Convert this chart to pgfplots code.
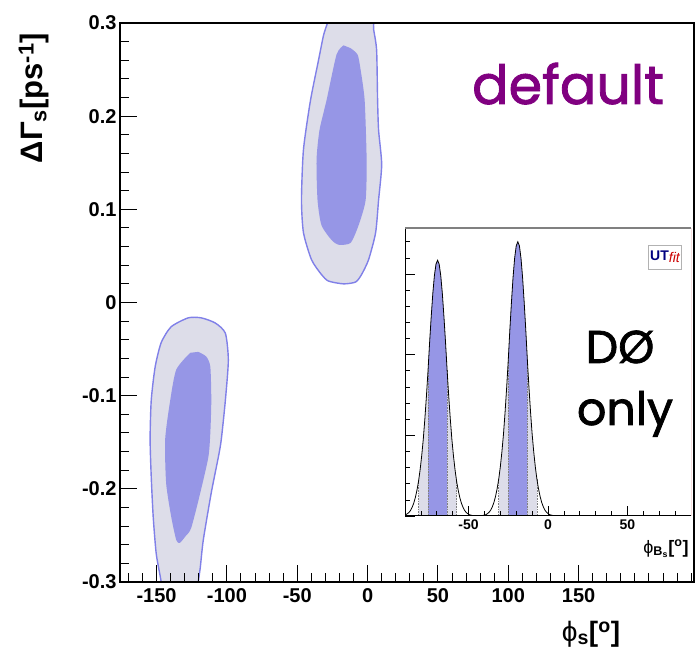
\documentclass[border=0pt]{standalone}
\usepackage{pgfplots}
\pgfplotsset{compat=1.18}
\usepackage{fontspec}
\setmainfont{Liberation Sans}
\newfontfamily\comic[FakeBold=1.6]{Poppins}
\definecolor{outerfill}{RGB}{221,221,233}
\definecolor{outline}{RGB}{128,128,232}
\definecolor{innerfill}{RGB}{150,150,230}
\definecolor{purp}{RGB}{128,0,128}
\definecolor{frame}{RGB}{128,128,128}
\definecolor{redline}{RGB}{190,0,0}
\begin{document}
\begin{tikzpicture}[x=1pt,y=1pt]
\useasboundingbox (0,0) rectangle (699,660);
% ---------------- main axis ----------------
\begin{axis}[
  at={(120pt,78pt)}, anchor=south west,
  width=574pt, height=559pt, scale only axis,
  xmin=-176, xmax=232, ymin=-0.3, ymax=0.3,
  xtick={-150,-100,-50,0,50,100,150},
  xticklabels={-150,-100,-50,0,50,100,150},
  minor xtick={-170,-160,...,230},
  ytick={-0.3,-0.2,-0.1,0,0.1,0.2,0.3},
  yticklabels={-0.3,-0.2,-0.1,0,0.1,0.2,0.3},
  minor ytick={-0.28,-0.26,-0.24,-0.22,-0.18,-0.16,-0.14,-0.12,-0.08,-0.06,-0.04,-0.02,0.02,0.04,0.06,0.08,0.12,0.14,0.16,0.18,0.22,0.24,0.26,0.28},
  tick align=inside, xtick pos=bottom, ytick pos=left,
  major tick length=17pt, minor tick length=9pt,
  tick style={black, line width=1pt},
  axis line style={black, line width=1.2pt},
  ticklabel style={font=\fontsize{20}{22}\selectfont\bfseries},
  xticklabel style={yshift=-3pt},
  axis on top,
]
\addplot[fill=outerfill, draw=outline, line width=1.4pt, smooth, tension=0.4] coordinates {
(-28.5,0.3) (-31.3,0.287) (-34.9,0.260) (-40.6,0.217) (-45.6,0.164) (-47.0,0.110) (-45.6,0.075) (-39.9,0.046) (-32.8,0.030) (-27.8,0.023) (-17.1,0.020) (-8.5,0.022) (-4.3,0.030) (0.7,0.046) (5.7,0.075) (7.8,0.110) (10.0,0.148) (7.8,0.185) (7.1,0.217) (6.4,0.271) (4.3,0.293) (4.3,0.3)
} -- cycle;
\addplot[fill=innerfill, draw=none, smooth, tension=0.4] coordinates {
(-17.1,0.276) (-22.1,0.266) (-29.2,0.217) (-34.2,0.185) (-36.3,0.153) (-35.6,0.110) (-32.8,0.083) (-25.6,0.067) (-20.7,0.062) (-12.1,0.064) (-6.4,0.083) (-1.4,0.110) (-0.7,0.153) (-2.1,0.217) (-5.0,0.250) (-7.1,0.266) (-12.1,0.273)
} -- cycle;
\addplot[fill=outerfill, draw=outline, line width=1.4pt, smooth, tension=0.4] coordinates {
(-146.7,-0.3) (-147.4,-0.294) (-150.3,-0.269) (-152.4,-0.230) (-153.8,-0.187) (-154.6,-0.147) (-153.8,-0.105) (-151.0,-0.069) (-146.7,-0.043) (-139.6,-0.026) (-127.5,-0.0165) (-118.2,-0.0165) (-108.3,-0.022) (-101.1,-0.033) (-99.0,-0.062) (-101.1,-0.105) (-104.0,-0.147) (-106.1,-0.166) (-111.1,-0.204) (-116.8,-0.255) (-118.9,-0.284) (-120.4,-0.3)
} -- cycle;
\addplot[fill=innerfill, draw=none, smooth, tension=0.4] coordinates {
(-126.1,-0.054) (-136.0,-0.072) (-140.3,-0.105) (-143.9,-0.147) (-143.2,-0.194) (-139.6,-0.230) (-136.0,-0.255) (-133.5,-0.258) (-129.5,-0.251) (-125.4,-0.242) (-118.9,-0.204) (-113.2,-0.166) (-111.8,-0.140) (-111.1,-0.105) (-111.8,-0.069) (-114.7,-0.058) (-120.4,-0.053)
} -- cycle;
\draw[frame, line width=2pt] (rel axis cs:0,1) -- (rel axis cs:1,1) -- (rel axis cs:1,0);
\end{axis}
% ---------------- inset ----------------
\begin{axis}[
  at={(405pt,144pt)}, anchor=south west,
  width=286pt, height=288pt, scale only axis,
  xmin=-90, xmax=90, ymin=0, ymax=3.57,
  xtick={-50,0,50}, xticklabels={-50,0,50},
  minor xtick={-80,-70,...,80},
  ytick={0,1,2,3}, yticklabels={},
  minor ytick={0.2,0.4,0.6,0.8,1.2,1.4,1.6,1.8,2.2,2.4,2.6,2.8,3.2,3.4},
  tick align=inside, xtick pos=bottom, ytick pos=left,
  major tick length=10pt, minor tick length=5pt,
  tick style={black, line width=0.6pt},
  axis line style={draw=none},
  axis background/.style={fill=white},
  ticklabel style={font=\fontsize{14}{16}\selectfont\bfseries},
  axis on top,
]
% light bands
\addplot[fill=outerfill, draw=none] coordinates {
(-81.5,0) (-81.5,0.428) (-80.5,0.571) (-79.5,0.745) (-78.5,0.951) (-77.5,1.205) (-76.5,1.490) (-75.5,1.807) (-74.5,2.156) (-73.5,2.473) (-72.5,2.758) (-71.5,2.980) (-70.5,3.122) (-69.5,3.170) (-68.5,3.122) (-67.5,2.980) (-66.5,2.758) (-65.5,2.473) (-64.5,2.156) (-63.5,1.807) (-62.5,1.490) (-61.5,1.205) (-60.5,0.951) (-59.5,0.745) (-58.5,0.571) (-57.5,0.428) (-57.5,0)
} -- cycle;
\addplot[fill=outerfill, draw=none] coordinates {
(-31,0) (-31,0.459) (-30,0.612) (-29,0.799) (-28,1.020) (-27,1.292) (-26,1.598) (-25,1.938) (-24,2.312) (-23,2.652) (-22,2.958) (-21,3.196) (-20,3.349) (-19,3.400) (-18,3.349) (-17,3.196) (-16,2.958) (-15,2.652) (-14,2.312) (-13,1.938) (-12,1.598) (-11,1.292) (-10,1.020) (-9,0.799) (-8,0.612) (-7,0.459) (-7,0)
} -- cycle;
% dark bands
\addplot[fill=innerfill, draw=none] coordinates {
(-75.5,0) (-75.5,1.807) (-74.5,2.156) (-73.5,2.473) (-72.5,2.758) (-71.5,2.980) (-70.5,3.122) (-69.5,3.170) (-68.5,3.122) (-67.5,2.980) (-66.5,2.758) (-65.5,2.473) (-64.5,2.156) (-63.5,1.807) (-63.5,0)
} -- cycle;
\addplot[fill=innerfill, draw=none] coordinates {
(-25,0) (-25,1.938) (-24,2.312) (-23,2.652) (-22,2.958) (-21,3.196) (-20,3.349) (-19,3.400) (-18,3.349) (-17,3.196) (-16,2.958) (-15,2.652) (-14,2.312) (-13,1.938) (-13,0)
} -- cycle;
% dotted edges
\addplot[gray, densely dotted, line width=0.6pt] coordinates {(-81.5,0) (-81.5,0.428)};
\addplot[gray, densely dotted, line width=0.6pt] coordinates {(-75.5,0) (-75.5,1.807)};
\addplot[gray, densely dotted, line width=0.6pt] coordinates {(-63.5,0) (-63.5,1.807)};
\addplot[gray, densely dotted, line width=0.6pt] coordinates {(-57.5,0) (-57.5,0.428)};
\addplot[gray, densely dotted, line width=0.6pt] coordinates {(-31,0) (-31,0.459)};
\addplot[gray, densely dotted, line width=0.6pt] coordinates {(-25,0) (-25,1.938)};
\addplot[gray, densely dotted, line width=0.6pt] coordinates {(-13,0) (-13,1.938)};
\addplot[gray, densely dotted, line width=0.6pt] coordinates {(-7,0) (-7,0.459)};
% curve
\addplot[black, line width=0.8pt] coordinates {
(-90,0.011) (-89.5,0.016) (-88.5,0.029) (-87.5,0.044) (-86.5,0.070) (-85.5,0.108) (-84.5,0.159) (-83.5,0.228) (-82.5,0.317) (-81.5,0.428) (-80.5,0.571) (-79.5,0.745) (-78.5,0.951) (-77.5,1.205) (-76.5,1.490) (-75.5,1.807) (-74.5,2.156) (-73.5,2.473) (-72.5,2.758) (-71.5,2.980) (-70.5,3.122) (-69.5,3.170) (-68.5,3.122) (-67.5,2.980) (-66.5,2.758) (-65.5,2.473) (-64.5,2.156) (-63.5,1.807) (-62.5,1.490) (-61.5,1.205) (-60.5,0.951) (-59.5,0.745) (-58.5,0.571) (-57.5,0.428) (-56.5,0.317) (-55.5,0.228) (-54.5,0.159) (-53.5,0.108) (-52.5,0.070) (-51.5,0.044) (-50.5,0.029) (-49.5,0.016) (-47.5,0.006) (-45.5,0)
(-43,0) (-41,0.007) (-39,0.017) (-38,0.031) (-37,0.048) (-36,0.075) (-35,0.116) (-34,0.170) (-33,0.245) (-32,0.340) (-31,0.459) (-30,0.612) (-29,0.799) (-28,1.020) (-27,1.292) (-26,1.598) (-25,1.938) (-24,2.312) (-23,2.652) (-22,2.958) (-21,3.196) (-20,3.349) (-19,3.400) (-18,3.349) (-17,3.196) (-16,2.958) (-15,2.652) (-14,2.312) (-13,1.938) (-12,1.598) (-11,1.292) (-10,1.020) (-9,0.799) (-8,0.612) (-7,0.459) (-6,0.340) (-5,0.245) (-4,0.170) (-3,0.116) (-2,0.075) (-1,0.048) (0,0.031) (1,0.017) (3,0.007) (5,0) (90,0)
};
\draw[black, line width=1pt] (rel axis cs:0,1) -- (rel axis cs:0,0) -- (rel axis cs:1,0);
\draw[frame, line width=1.5pt] (rel axis cs:0,1) -- (rel axis cs:1,1);
\draw[redline, line width=1pt] (rel axis cs:1,0) -- (rel axis cs:1,1);
\end{axis}
% ---------------- texts ----------------
\node[rotate=90, font=\fontsize{31}{34}\selectfont\bfseries] at (34,562) {ΔΓ\textsubscript{s}[ps\textsuperscript{-1}]};
\node[font=\fontsize{28}{30}\selectfont\bfseries] at (591,26) {{\mdseries ϕ}\textsubscript{s}[\textsuperscript{o}]};
\node[font=\fontsize{18}{20}\selectfont\bfseries] at (666,111) {{\mdseries ϕ}\textsubscript{B\textsubscript{s}}[\textsuperscript{o}]};
\node[font=\comic\fontsize{54}{56}\selectfont, text=purp, anchor=base] at (568,556) {default};
\node[font=\comic\fontsize{46}{48}\selectfont, anchor=base] at (620,297) {DØ};
\node[font=\comic\fontsize{46}{48}\selectfont, anchor=base] at (625,235) {only};
\node[draw=gray!60, fill=white, line width=0.8pt, inner sep=2pt, minimum height=24pt, font=\fontsize{14}{15}\selectfont] at (665,403) {{\color{blue!50!black}\bfseries UT}\raisebox{-2pt}{\color{red!80!black}\itshape fit}};
\end{tikzpicture}
\end{document}
